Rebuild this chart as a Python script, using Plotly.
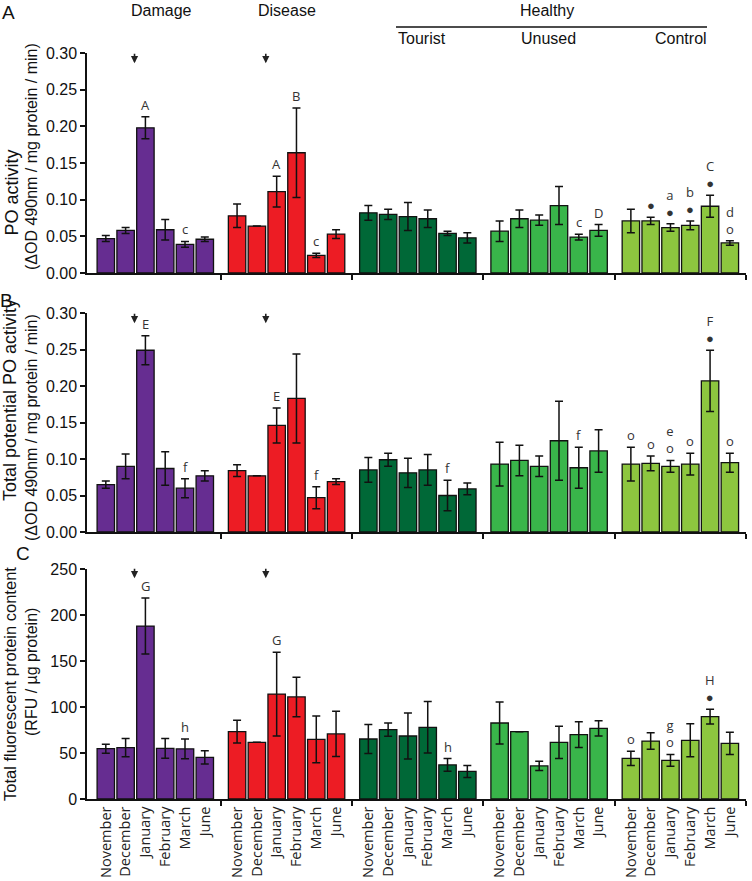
import plotly.graph_objects as go
from plotly.subplots import make_subplots

# ---------------- data ----------------
months = ["November", "December", "January", "February", "March", "June"]
groups = ["Damage", "Disease", "Tourist", "Unused", "Control"]
colors = ["#662d91", "#ed1c24", "#006837", "#39b54a", "#8dc63f"]

# Panel A: PO activity
A_damage = [0.047, 0.058, 0.198, 0.059, 0.039, 0.046]
A_damage_err = [0.004, 0.004, 0.015, 0.014, 0.004, 0.003]
A_disease = [0.078, 0.064, 0.111, 0.164, 0.024, 0.053]
A_disease_err = [0.016, None, 0.021, 0.061, 0.003, 0.006]
A_tourist = [0.082, 0.080, 0.077, 0.074, 0.054, 0.048]
A_tourist_err = [0.010, 0.007, 0.019, 0.012, 0.003, 0.007]
A_unused = [0.057, 0.074, 0.072, 0.092, 0.049, 0.058]
A_unused_err = [0.014, 0.012, 0.007, 0.026, 0.004, 0.008]
A_control = [0.071, 0.071, 0.062, 0.065, 0.091, 0.041]
A_control_err = [0.016, 0.005, 0.005, 0.006, 0.015, 0.003]

# Panel B: total potential PO activity
B_damage = [0.065, 0.090, 0.249, 0.087, 0.060, 0.077]
B_damage_err = [0.005, 0.017, 0.020, 0.023, 0.013, 0.007]
B_disease = [0.084, 0.077, 0.146, 0.183, 0.047, 0.069]
B_disease_err = [0.008, None, 0.024, 0.061, 0.015, 0.004]
B_tourist = [0.085, 0.099, 0.081, 0.085, 0.050, 0.059]
B_tourist_err = [0.017, 0.009, 0.020, 0.021, 0.021, 0.008]
B_unused = [0.093, 0.098, 0.090, 0.125, 0.088, 0.111]
B_unused_err = [0.030, 0.021, 0.014, 0.054, 0.028, 0.029]
B_control = [0.093, 0.094, 0.090, 0.093, 0.207, 0.095]
B_control_err = [0.023, 0.010, 0.008, 0.015, 0.042, 0.013]

# Panel C: total fluorescent protein content
C_damage = [54.7, 55.8, 188.0, 55.0, 54.5, 45.3]
C_damage_err = [4.9, 10.0, 30.4, 10.7, 10.7, 7.2]
C_disease = [73.2, 61.6, 114.0, 110.9, 64.9, 70.7]
C_disease_err = [12.3, None, 45.5, 21.4, 25.4, 24.6]
C_tourist = [65.2, 75.4, 68.5, 77.9, 37.0, 30.0]
C_tourist_err = [15.8, 7.2, 25.0, 28.0, 6.9, 6.5]
C_unused = [82.6, 73.2, 35.9, 61.6, 69.9, 76.8]
C_unused_err = [22.8, None, 5.0, 17.6, 14.0, 8.2]
C_control = [44.2, 63.0, 42.0, 63.8, 89.5, 60.5]
C_control_err = [7.8, 9.0, 6.5, 17.9, 8.0, 12.0]

# significance labels: (group index, month index, lines top->bottom)
A_labels = [(0, 2, ["A"]), (0, 4, ["c"]), (1, 2, ["A"]), (1, 3, ["B"]), (1, 4, ["c"]),
            (3, 4, ["c"]), (3, 5, ["D"]), (4, 1, ["●"]), (4, 2, ["a", "●"]),
            (4, 3, ["b", "●"]), (4, 4, ["C", "●"]), (4, 5, ["d", "o"])]
B_labels = [(0, 2, ["E"]), (0, 4, ["f"]), (1, 2, ["E"]), (1, 4, ["f"]), (2, 4, ["f"]),
            (3, 4, ["f"]), (4, 0, ["o"]), (4, 1, ["o"]), (4, 2, ["e", "o"]),
            (4, 3, ["o"]), (4, 4, ["F", "●"]), (4, 5, ["o"])]
C_labels = [(0, 2, ["G"]), (0, 4, ["h"]), (1, 2, ["G"]), (2, 4, ["h"]),
            (4, 0, ["o"]), (4, 2, ["g", "o"]), (4, 4, ["H", "●"])]

panels = [
    dict(vals=[A_damage, A_disease, A_tourist, A_unused, A_control],
         errs=[A_damage_err, A_disease_err, A_tourist_err, A_unused_err, A_control_err],
         labels=A_labels, yrange=[0, 0.30], ytick=[0, 0.05, 0.10, 0.15, 0.20, 0.25, 0.30],
         fmt=".2f", arrow_y=0.286),
    dict(vals=[B_damage, B_disease, B_tourist, B_unused, B_control],
         errs=[B_damage_err, B_disease_err, B_tourist_err, B_unused_err, B_control_err],
         labels=B_labels, yrange=[0, 0.30], ytick=[0, 0.05, 0.10, 0.15, 0.20, 0.25, 0.30],
         fmt=".2f", arrow_y=0.286),
    dict(vals=[C_damage, C_disease, C_tourist, C_unused, C_control],
         errs=[C_damage_err, C_disease_err, C_tourist_err, C_unused_err, C_control_err],
         labels=C_labels, yrange=[0, 250], ytick=[0, 50, 100, 150, 200, 250],
         fmt="d", arrow_y=240),
]

# ---------------- geometry ----------------
W, H = 752, 881
PL, PR = 87, 746
GP = 6.63          # group pitch in bar units
BW = 0.88
XR = [-0.95, 4 * GP + 5.815]
dividers = [g * GP + 5.815 for g in range(5)]
centers = [g * GP + i for g in range(5) for i in range(6)]
center_text = [m for g in range(5) for m in months]


def px(x):
    return (x - PL) / (PR - PL)


def py(y):
    return (H - y) / H


domains = [[py(273), py(53)], [py(532), py(313)], [py(799), py(569)]]

fig = make_subplots(rows=3, cols=1)
TXT = "#333333"
SANS = "Liberation Sans, Arial, sans-serif"
HUM = "Open Sans, Noto Sans, sans-serif"

annotations = []
for p, pan in enumerate(panels):
    row = p + 1
    xr = "x" if p == 0 else f"x{row}"
    yr = "y" if p == 0 else f"y{row}"
    for g in range(5):
        fig.add_trace(go.Bar(
            x=[g * GP + i for i in range(6)], y=pan["vals"][g], width=BW,
            marker=dict(color=colors[g], line=dict(color="#111111", width=1.3)),
            error_y=dict(type="data", array=pan["errs"][g], color="#111111",
                         thickness=1.5, width=4),
            showlegend=False, hoverinfo="skip"), row=row, col=1)
    for (g, i, lines) in pan["labels"]:
        e = pan["errs"][g][i] or 0
        annotations.append(dict(
            x=g * GP + i, y=pan["vals"][g][i] + e, xref=xr, yref=yr,
            text="<br>".join(lines), showarrow=False, yanchor="bottom", yshift=1,
            font=dict(family=HUM, size=13, color=TXT)))
    for g in (0, 1):
        annotations.append(dict(
            x=g * GP + 1.45, y=pan["arrow_y"], xref=xr, yref=yr, text="",
            showarrow=True, ax=0, ay=-11, arrowhead=2, arrowsize=0.9,
            arrowwidth=1.6, arrowcolor="#222222"))
    fig.update_yaxes(row=row, col=1, domain=domains[p], range=pan["yrange"],
                     tickvals=pan["ytick"], tickformat=pan["fmt"], showline=True,
                     linecolor="#111111", linewidth=1.5, ticks="outside", ticklen=5,
                     tickwidth=1.5, tickcolor="#111111", showgrid=False, zeroline=False,
                     automargin=False,
                     tickfont=dict(family=SANS, size=16, color="#111111"))
    fig.update_xaxes(row=row, col=1, range=XR, tickmode="array", tickvals=centers,
                     ticktext=center_text, ticks="", showticklabels=(p == 2),
                     tickangle=-90, tickfont=dict(family=HUM, size=14.5, color="#222222"),
                     showline=True, linecolor="#111111", linewidth=1.5, showgrid=False,
                     zeroline=False, automargin=False,
                     minor=dict(tickmode="array", tickvals=dividers, ticks="outside",
                                ticklen=5, tickwidth=1.5, tickcolor="#111111",
                                showgrid=False))

# panel letters
for t, (x0, y0) in zip(["A", "B", "C"], [(8, 12), (6, 300), (23, 553)]):
    annotations.append(dict(x=px(x0), y=py(y0), xref="paper", yref="paper", text=t,
                            showarrow=False, xanchor="center", yanchor="middle",
                            font=dict(family=SANS, size=19, color="#111111")))

# y-axis titles (two lines each)
ytitles = [("PO activity", 11.5, 193, 18), ("(ΔOD 490nm / mg protein / min)", 31, 157, 16),
           ("Total potential PO activity", 10, 400, 18), ("(ΔOD 490nm / mg protein / min)", 31, 428, 16),
           ("Total fluorescent protein content", 10, 684, 16.5), ("(RFU / µg protein)", 31, 672, 16)]
for t, x0, y0, s in ytitles:
    annotations.append(dict(x=px(x0), y=py(y0), xref="paper", yref="paper", text=t,
                            textangle=-90, showarrow=False, xanchor="center",
                            yanchor="middle", font=dict(family=SANS, size=s, color="#111111")))

# group headings
heads = [("Damage", 161, 10), ("Disease", 287, 10), ("Healthy", 547, 10),
         ("Tourist", 422, 39), ("Unused", 548, 39), ("Control", 681, 39)]
for t, x0, y0 in heads:
    annotations.append(dict(x=px(x0), y=py(y0), xref="paper", yref="paper", text=t,
                            showarrow=False, xanchor="center", yanchor="middle",
                            font=dict(family=SANS, size=16, color="#111111")))

shapes = [dict(type="line", xref="paper", yref="paper", x0=px(396), x1=px(707),
               y0=py(27), y1=py(27), line=dict(color="#111111", width=1.5))]

fig.update_layout(width=W, height=H, margin=dict(l=PL, r=W - PR, t=0, b=0, autoexpand=False),
                  template="none", barmode="overlay", plot_bgcolor="white",
                  paper_bgcolor="white", annotations=annotations, shapes=shapes)

fig.write_html("out.html", config={"displayModeBar": False},
               post_script="document.body.style.margin='0';document.body.style.overflow='hidden';")
